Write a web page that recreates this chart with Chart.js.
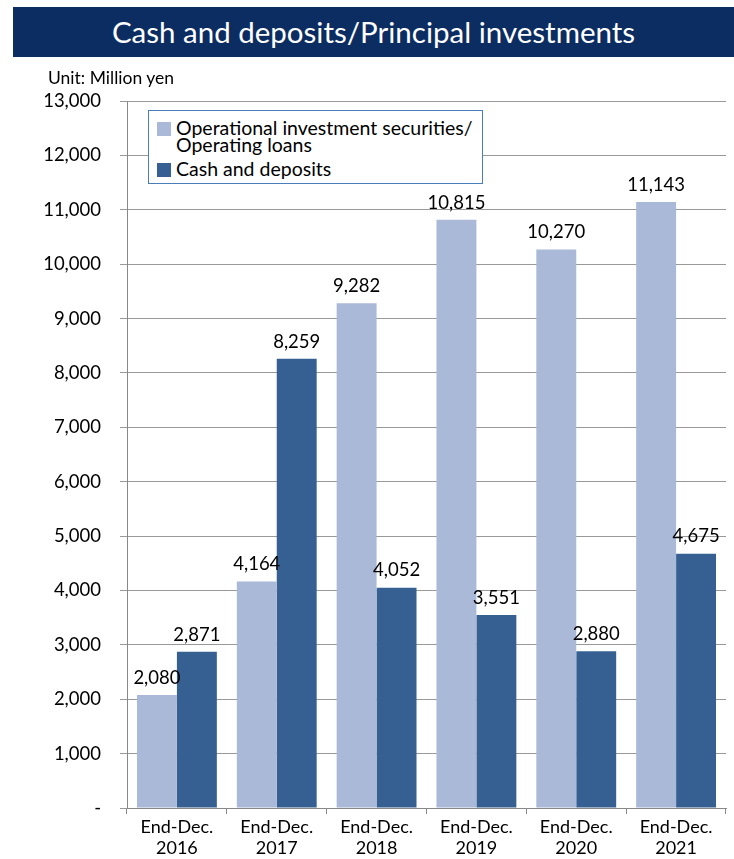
<!DOCTYPE html>
<html>
<head>
<meta charset="utf-8">
<script src="https://cdn.jsdelivr.net/npm/chart.js@4/dist/chart.umd.min.js"></script>
<style>
  html, body { margin: 0; padding: 0; background: #fff; }
  #wrap { position: relative; width: 734px; height: 859px; font-family: Lato, "Open Sans", sans-serif; }
  #banner {
    position: absolute; left: 13px; top: 7px; width: 721px; height: 50px;
    background: #0b2d62; color: #fff; font-size: 29.5px; line-height: 50px; text-align: center;
  }
  #unit { position: absolute; left: 48px; top: 67px; font-size: 17.5px; color: #000; }
  #legend {
    position: absolute; left: 148px; top: 110px; width: 333px; height: 72px;
    border: 1px solid #4a7ebb; background: #fff; font-size: 19.5px; line-height: 17px; color: #000;
  }
  .item { position: absolute; left: 8px; }
  .sw { position: absolute; left: 0; width: 14px; height: 14px; }
  .txt { position: absolute; left: 19px; white-space: nowrap; }
  canvas { position: absolute; left: 0; top: 0; }
</style>
</head>
<body>
<div id="wrap">
  <canvas id="chart" width="734" height="859"></canvas>
  <div id="banner">Cash and deposits/Principal investments</div>
  <div id="unit">Unit: Million yen</div>
  <div id="legend"></div>
</div>
<script>
const categories = [
  ['End-Dec.', '2016'], ['End-Dec.', '2017'], ['End-Dec.', '2018'],
  ['End-Dec.', '2019'], ['End-Dec.', '2020'], ['End-Dec.', '2021']
];
const investmentValues = [2080, 4164, 9282, 10815, 10270, 11143];
const cashValues = [2871, 8259, 4052, 3551, 2880, 4675];
const seriesNames = ['Operational investment securities/\nOperating loans', 'Cash and deposits'];
const seriesColors = ['#aab9d8', '#376092'];
const yTicks = [0, 1000, 2000, 3000, 4000, 5000, 6000, 7000, 8000, 9000, 10000, 11000, 12000, 13000];

// legend as html
const legend = document.getElementById('legend');
const legendTops = [8, 49];
seriesNames.forEach((name, i) => {
  const item = document.createElement('div');
  item.className = 'item';
  item.style.top = legendTops[i] + 'px';
  item.innerHTML = `<div class="sw" style="background:${seriesColors[i]};top:3px"></div>` +
    `<div class="txt">${name.replace('\n', '<br>')}</div>`;
  legend.appendChild(item);
});

const fmt = v => v === 0 ? '-' : v.toLocaleString('en-US');

const barLabels = {
  id: 'barLabels',
  afterDatasetsDraw(chart) {
    const ctx = chart.ctx;
    ctx.save();
    ctx.font = '18.5px Lato, "Open Sans", sans-serif';
    ctx.fillStyle = '#000';
    ctx.textAlign = 'center';
    ctx.textBaseline = 'bottom';
    chart.data.datasets.forEach((ds, i) => {
      chart.getDatasetMeta(i).data.forEach((bar, j) => {
        ctx.fillText(fmt(ds.data[j]), bar.x, bar.y - 8);
      });
    });
    ctx.restore();
  }
};

new Chart(document.getElementById('chart'), {
  type: 'bar',
  data: {
    labels: categories,
    datasets: [
      { label: seriesNames[0], data: investmentValues, backgroundColor: seriesColors[0] },
      { label: seriesNames[1], data: cashValues, backgroundColor: seriesColors[1] }
    ]
  },
  options: {
    responsive: false,
    animation: false,
    devicePixelRatio: 1,
    categoryPercentage: 0.8,
    barPercentage: 1.0,
    layout: { padding: { top: 101, right: 8, left: 0, bottom: 0 } },
    plugins: { legend: { display: false }, tooltip: { enabled: false } },
    scales: {
      x: {
        grid: { display: true, drawOnChartArea: false, offset: true, color: '#888', tickLength: 6 },
        border: { color: '#888' },
        ticks: { color: '#000', font: { family: 'Lato', size: 18 }, maxRotation: 0, padding: 2 },
        afterFit(scale) { scale.height = 51; }
      },
      y: {
        min: 0, max: 13000,
        afterBuildTicks(scale) { scale.ticks = yTicks.map(v => ({ value: v })); },
        grid: { color: '#999', tickLength: 7 },
        border: { color: '#888' },
        ticks: { color: '#000', font: { family: 'Lato', size: 18.5 }, padding: 19, callback: v => fmt(v) },
        afterFit(scale) { scale.width = 127; }
      }
    }
  },
  plugins: [barLabels]
});
</script>
</body>
</html>
